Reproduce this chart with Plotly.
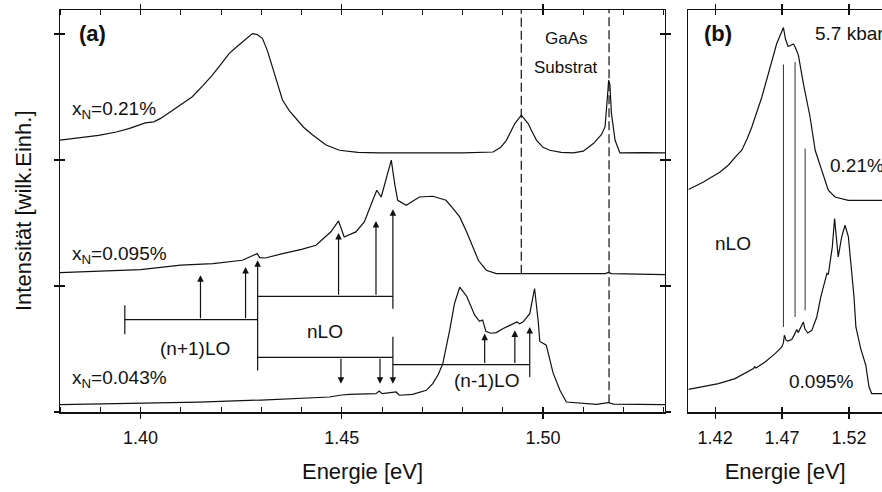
import plotly.graph_objects as go

# ---------------- data: panel (a) ----------------
E_A_021 = [1.3797, 1.3850, 1.3896, 1.3940, 1.3971, 1.4012, 1.4033, 1.4050, 1.4079, 1.4105,
           1.4128, 1.4155, 1.4178, 1.4200, 1.4220, 1.4240, 1.4253, 1.4268, 1.4278, 1.4290,
           1.4303, 1.4315, 1.4328, 1.4340, 1.4353, 1.4370, 1.4386, 1.4405, 1.4427, 1.4460,
           1.4494, 1.4540, 1.4593, 1.4700, 1.4800, 1.4876, 1.4895, 1.4909, 1.4920, 1.4930,
           1.4946, 1.4963, 1.4975, 1.4984, 1.5000, 1.5017, 1.5045, 1.5075, 1.5100, 1.5125,
           1.5145, 1.5154, 1.5160, 1.5163, 1.5166, 1.5170, 1.5179, 1.5191, 1.5250, 1.5303]
I_A_021 = [2.156, 2.175, 2.195, 2.222, 2.249, 2.294, 2.302, 2.330, 2.394, 2.450,
           2.500, 2.590, 2.672, 2.760, 2.844, 2.900, 2.937, 2.980, 3.003, 2.995,
           2.963, 2.870, 2.738, 2.600, 2.474, 2.390, 2.330, 2.260, 2.200, 2.120,
           2.077, 2.060, 2.056, 2.055, 2.056, 2.063, 2.100, 2.156, 2.220, 2.289,
           2.355, 2.289, 2.210, 2.156, 2.100, 2.077, 2.060, 2.056, 2.070, 2.130,
           2.200, 2.262, 2.500, 2.633, 2.600, 2.368, 2.156, 2.056, 2.058, 2.056]

E_A_095 = [1.3797, 1.3900, 1.4000, 1.4100, 1.4180, 1.4253, 1.4282, 1.4290, 1.4296, 1.4310,
           1.4353, 1.4400, 1.4436, 1.4473, 1.4492, 1.4506, 1.4535, 1.4556, 1.4577, 1.4587,
           1.4598, 1.4610, 1.4623, 1.4632, 1.4639, 1.4660, 1.4693, 1.4726, 1.4759, 1.4775,
           1.4793, 1.4810, 1.4826, 1.4840, 1.4859, 1.4884, 1.4967, 1.5155, 1.5162, 1.5170,
           1.5303]
I_A_095 = [1.106, 1.118, 1.130, 1.165, 1.178, 1.204, 1.244, 1.257, 1.225, 1.222,
           1.257, 1.290, 1.323, 1.430, 1.516, 1.389, 1.429, 1.508, 1.680, 1.760,
           1.706, 1.850, 1.998, 1.800, 1.680, 1.640, 1.706, 1.712, 1.680, 1.620,
           1.548, 1.430, 1.310, 1.200, 1.125, 1.098, 1.098, 1.098, 1.108, 1.098,
           1.090]

E_A_043 = [1.3797, 1.3970, 1.4145, 1.4300, 1.4400, 1.4469, 1.4500, 1.4519, 1.4585, 1.4593,
           1.4600, 1.4635, 1.4643, 1.4676, 1.4710, 1.4726, 1.4740, 1.4751, 1.4768, 1.4780,
           1.4793, 1.4810, 1.4830, 1.4842, 1.4850, 1.4858, 1.4870, 1.4884, 1.4900, 1.4925,
           1.4935, 1.4942, 1.4950, 1.4967, 1.4979, 1.4988, 1.4992, 1.5000, 1.5008, 1.5025,
           1.5042, 1.5058, 1.5133, 1.5162, 1.5175, 1.5303]
I_A_043 = [0.059, 0.068, 0.079, 0.095, 0.108, 0.119, 0.135, 0.140, 0.146, 0.167,
           0.146, 0.159, 0.133, 0.140, 0.172, 0.225, 0.300, 0.384, 0.648, 0.860,
           0.990, 0.920, 0.770, 0.720, 0.730, 0.640, 0.625, 0.630, 0.660, 0.700,
           0.715, 0.700, 0.714, 0.780, 0.980, 0.720, 0.560, 0.545, 0.530, 0.310,
           0.172, 0.079, 0.061, 0.075, 0.062, 0.059]

# GaAs substrate lines: energy, lower end (upper end = top of frame)
GAAS_E = [1.4946, 1.5164]
GAAS_LOW = [1.098, 0.069]

# LO-phonon replica brackets (energies, levels)
LO_E = [1.3961, 1.4291, 1.4627, 1.4967]
LEVEL_NP1 = 0.733
LEVEL_N_UP = 0.918
LEVEL_N_LOW = 0.434
LEVEL_NM1 = 0.376
NP1_END_TICK = [0.617, 0.847]

# arrows: (energy, tail, head)
ARROW_E = [1.4149, 1.4261, 1.4291, 1.4492, 1.4585, 1.4627,
           1.4498, 1.4595, 1.4627, 1.4855, 1.4930, 1.4967]
ARROW_FROM = [0.733, 0.733, 0.317, 0.918, 0.918, 0.807,
              0.434, 0.434, 0.609, 0.376, 0.376, 0.265]
ARROW_TO = [1.085, 1.151, 1.204, 1.421, 1.516, 1.609,
            0.224, 0.224, 0.224, 0.622, 0.648, 0.675]

# ---------------- data: panel (b) ----------------
E_B_021 = [1.4001, 1.4113, 1.4237, 1.4300, 1.4362, 1.4399, 1.4440, 1.4474, 1.4549, 1.4610,
           1.4660, 1.4690, 1.4710, 1.4725, 1.4745, 1.4765, 1.4785, 1.4800, 1.4822, 1.4859,
           1.4909, 1.4947, 1.4996, 1.5045, 1.5095, 1.5194, 1.5446]
I_B_021 = [1.765, 1.825, 1.905, 1.960, 2.037, 2.077, 2.170, 2.262, 2.500, 2.738,
           2.924, 3.000, 3.051, 2.960, 2.900, 2.910, 2.920, 2.890, 2.830, 2.606,
           2.341, 2.077, 1.918, 1.760, 1.706, 1.680, 1.680]

E_B_095 = [1.4001, 1.4225, 1.4349, 1.4486, 1.4495, 1.4505, 1.4573, 1.4648, 1.4698, 1.4710,
           1.4717, 1.4730, 1.4743, 1.4772, 1.4790, 1.4800, 1.4810, 1.4820, 1.4840, 1.4859,
           1.4870, 1.4892, 1.4922, 1.4959, 1.4989, 1.5026, 1.5035, 1.5045, 1.5075, 1.5092,
           1.5105, 1.5119, 1.5145, 1.5170, 1.5195, 1.5237, 1.5251, 1.5287, 1.5325, 1.5349,
           1.5369, 1.5449]
I_B_095 = [0.180, 0.225, 0.265, 0.344, 0.360, 0.350, 0.397, 0.463, 0.516, 0.550,
           0.609, 0.570, 0.563, 0.575, 0.610, 0.630, 0.654, 0.630, 0.670, 0.714,
           0.660, 0.627, 0.648, 0.754, 0.913, 1.071, 1.100, 1.090, 1.310, 1.535,
           1.350, 1.230, 1.389, 1.482, 1.389, 0.913, 0.675, 0.503, 0.371, 0.198,
           0.146, 0.146]

NLO_B_E = [1.4710, 1.4797, 1.4872]
NLO_B_TOP = [2.757, 2.778, 2.090]
NLO_B_BOT = [0.675, 0.754, 0.807]

Y_RANGE = [0, 3.19]
XA_RANGE = [1.38, 1.5303]
XB_RANGE = [1.40, 1.5446]

FONT = "Liberation Sans, Arial, Helvetica, sans-serif"
BLACK = "#111111"

fig = go.Figure()


def add_line(x, y, xa="x", ya="y", color=BLACK, width=1.2, dash=None):
    fig.add_trace(go.Scatter(x=x, y=y, mode="lines", xaxis=xa, yaxis=ya,
                             line=dict(color=color, width=width, dash=dash),
                             showlegend=False, hoverinfo="skip"))


# spectra panel (a)
add_line(E_A_021, I_A_021)
add_line(E_A_095, I_A_095)
add_line(E_A_043, I_A_043)

# GaAs dashed lines
for e, lo in zip(GAAS_E, GAAS_LOW):
    add_line([e, e], [lo, Y_RANGE[1]], dash="9px,4px", width=1.2)

# brackets
add_line([LO_E[0], LO_E[1]], [LEVEL_NP1, LEVEL_NP1])
add_line([LO_E[0], LO_E[0]], NP1_END_TICK)
add_line([LO_E[1], LO_E[2]], [LEVEL_N_UP, LEVEL_N_UP])
add_line([LO_E[1], LO_E[2]], [LEVEL_N_LOW, LEVEL_N_LOW])
add_line([LO_E[2], LO_E[3]], [LEVEL_NM1, LEVEL_NM1])

annotations = []
for e, a, b in zip(ARROW_E, ARROW_FROM, ARROW_TO):
    annotations.append(dict(x=e, y=b, ax=e, ay=a, xref="x", yref="y", axref="x", ayref="y",
                            text="", showarrow=True, arrowhead=2, arrowsize=1.1,
                            arrowwidth=1.2, arrowcolor=BLACK, standoff=0))

# spectra panel (b)
add_line(E_B_021, I_B_021, xa="x2", ya="y2")
add_line(E_B_095, I_B_095, xa="x2", ya="y2")
for e, t, b in zip(NLO_B_E, NLO_B_TOP, NLO_B_BOT):
    add_line([e, e], [b, t], xa="x2", ya="y2", color="#333333", width=1)

# empty traces for overlay (inside-tick) axes
fig.add_trace(go.Scatter(x=[], y=[], xaxis="x3", yaxis="y3", showlegend=False))
fig.add_trace(go.Scatter(x=[], y=[], xaxis="x4", yaxis="y2", showlegend=False))


def label(text, x, y, xref="x", yref="y", xanchor="left", size=19, bold=False):
    f = dict(family=FONT, size=size, color=BLACK)
    if bold:
        text = "<b>" + text + "</b>"
    annotations.append(dict(x=x, y=y, xref=xref, yref=yref, text=text, showarrow=False,
                            xanchor=xanchor, yanchor="middle", font=f))


label("(a)", 1.3841, 3.005, size=22, bold=True)
label("x<sub>N</sub>=0.21%", 1.3826, 2.40)
label("x<sub>N</sub>=0.095%", 1.3826, 1.245)
label("x<sub>N</sub>=0.043%", 1.3826, 0.265)
label("(n+1)LO", 1.4136, 0.503, xanchor="center")
label("nLO", 1.4459, 0.635, xanchor="center")
label("(n-1)LO", 1.4859, 0.252, xanchor="center")
label("GaAs", 1.5058, 2.965, xanchor="center", size=17)
label("Substrat", 1.5058, 2.735, xanchor="center", size=17)

label("(b)", 1.4103, 3.005, xref="x2", yref="y2", size=22, bold=True)
label("5.7 kbar", 1.4931, 3.005, xref="x2", yref="y2")
label("0.21%", 1.5043, 1.958, xref="x2", yref="y2")
label("nLO", 1.4334, 1.336, xref="x2", yref="y2", xanchor="center")
label("0.095%", 1.4995, 0.246, xref="x2", yref="y2", xanchor="center")

annotations.append(dict(x=-0.045, y=0.5, xref="paper", yref="paper", text="Intensität [wilk.Einh.]",
                        textangle=-90, showarrow=False, xanchor="center", yanchor="middle",
                        font=dict(family=FONT, size=22, color=BLACK)))

common = dict(showgrid=False, zeroline=False, showline=True, linecolor=BLACK, linewidth=1.5,
              tickcolor=BLACK, tickwidth=1.2, ticklen=5, automargin=False)

DOM_A = [0, 0.736]
DOM_B = [0.7644, 1]

fig.update_layout(
    width=882, height=492,
    margin=dict(l=60, r=0, t=10, b=80, autoexpand=False),
    paper_bgcolor="white", plot_bgcolor="white",
    font=dict(family=FONT, color=BLACK),
    annotations=annotations,
    xaxis=dict(**common, domain=DOM_A, range=XA_RANGE, anchor="y", mirror="ticks",
               ticks="outside", dtick=0.05, tick0=1.40, tickformat=".2f",
               tickfont=dict(size=18), ticklabelstandoff=4,
               minor=dict(ticks="inside", ticklen=5, dtick=0.01, tick0=1.40,
                          tickcolor=BLACK, tickwidth=1),
               title=dict(text="Energie [eV]", font=dict(size=22), standoff=16)),
    yaxis=dict(**common, domain=[0, 1], range=Y_RANGE, anchor="x", mirror="ticks",
               ticks="outside", dtick=1, tick0=0, showticklabels=False),
    xaxis3=dict(**common, range=XA_RANGE, overlaying="x", anchor="y3", mirror="ticks",
                ticks="inside", dtick=0.05, tick0=1.40, showticklabels=False),
    yaxis3=dict(**common, range=Y_RANGE, overlaying="y", anchor="x3", mirror="ticks",
                ticks="inside", dtick=1, tick0=0, showticklabels=False),
    xaxis2=dict(**common, domain=DOM_B, range=XB_RANGE, anchor="y2", mirror="ticks",
                ticks="outside", dtick=0.05, tick0=1.42, tickformat=".2f",
                tickfont=dict(size=18), ticklabelstandoff=4,
                title=dict(text="Energie [eV]", font=dict(size=22), standoff=16)),
    xaxis4=dict(**common, range=XB_RANGE, overlaying="x2", anchor="y2", mirror="ticks",
                ticks="inside", dtick=0.05, tick0=1.42, showticklabels=False),
    yaxis2=dict(**common, domain=[0, 1], range=Y_RANGE, anchor="x2", mirror=False,
                ticks="", showticklabels=False),
)

# remove the browser's default 8 px body margin so the 882x492 figure fills the window
fig.write_html("out.html",
               config=dict(displayModeBar=False, staticPlot=True),
               post_script="document.body.style.margin='0';document.body.style.overflow='hidden';")
